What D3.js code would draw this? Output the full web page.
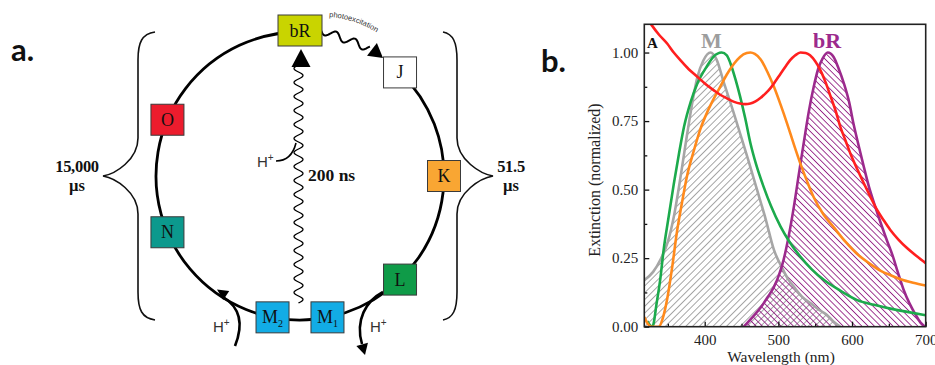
<!DOCTYPE html>
<html>
<head>
<meta charset="utf-8">
<script src="https://cdn.jsdelivr.net/npm/d3@7"></script>
<style>
  body { margin: 0; background: #fff; }
  svg { display: block; }
</style>
</head>
<body>
<svg id="fig"></svg>
<script>
// ---- panel a: photocycle states ----
const stateNames = ["bR", "J", "K", "L", "M1", "M2", "N", "O"];
const stateColors = ["#c9d400", "#ffffff", "#f9a633", "#0f9b48", "#12ace5", "#12ace5", "#0c998d", "#ec1c2d"];
const stateAngles = [0, 44, 90, 136, 169, 191, 247, 293]; // degrees, clockwise from top
const cycleTimes = [["15,000", "\u00b5s"], ["51.5", "\u00b5s"]];
const transferTime = "200 ns";

// ---- panel b: normalized extinction spectra ----
const wavelengthTicks = [400, 500, 600, 700];
const wavelengthMinor = [350, 450, 550, 650];
const extinctionTicks = [0, 0.25, 0.5, 0.75, 1];
const extinctionMinor = [0.125, 0.375, 0.625, 0.875];

const mWavelength = [318, 330, 340, 350, 358, 368, 376, 384, 390, 398, 408, 416, 426, 437, 448, 460, 471, 483, 494, 505, 514, 521, 532, 544, 556, 566, 575, 584];
const mExtinction = [0.17, 0.2, 0.245, 0.31, 0.4, 0.56, 0.7, 0.83, 0.91, 0.97, 1.0, 0.975, 0.89, 0.8, 0.705, 0.6, 0.5, 0.39, 0.28, 0.215, 0.17, 0.146, 0.11, 0.085, 0.06, 0.043, 0.018, 0.0];

const brWavelength = [453, 465, 476, 486, 494, 501, 507, 514, 521, 528, 535, 541, 548, 554, 560, 567, 575, 582, 589, 596, 602, 609, 616, 623, 630, 640, 648, 655, 662, 670, 678, 686, 693, 699];
const brExtinction = [0.0, 0.035, 0.07, 0.11, 0.145, 0.19, 0.243, 0.33, 0.437, 0.56, 0.68, 0.78, 0.875, 0.94, 0.978, 1.0, 0.984, 0.94, 0.887, 0.82, 0.74, 0.66, 0.583, 0.51, 0.45, 0.37, 0.31, 0.26, 0.2, 0.135, 0.085, 0.045, 0.015, 0.0];

const greenWavelength = [322, 329, 335, 340, 344, 351, 358, 365, 372, 381, 390, 403, 412, 423, 430, 435, 442, 448, 455, 462, 470, 480, 490, 503, 515, 530, 545, 562, 585, 607, 630, 652, 675, 700];
const greenExtinction = [0.02, 0.0, 0.09, 0.18, 0.275, 0.4, 0.52, 0.63, 0.73, 0.82, 0.887, 0.95, 0.985, 1.0, 0.99, 0.96, 0.9, 0.84, 0.76, 0.67, 0.59, 0.51, 0.44, 0.365, 0.31, 0.255, 0.21, 0.17, 0.13, 0.097, 0.08, 0.066, 0.054, 0.042];

const orangeWavelength = [318, 323, 328, 338, 343, 349, 356, 362, 369, 376, 385, 394, 403, 412, 421, 430, 440, 448, 457, 462, 468, 476, 485, 494, 503, 512, 521, 530, 539, 548, 561, 575, 591, 607, 623, 639, 653, 666, 683, 700];
const orangeExtinction = [0.035, 0.01, 0.0, 0.0, 0.03, 0.1, 0.22, 0.34, 0.45, 0.55, 0.64, 0.72, 0.78, 0.83, 0.875, 0.92, 0.96, 0.984, 0.998, 1.0, 0.995, 0.975, 0.93, 0.875, 0.81, 0.74, 0.665, 0.594, 0.53, 0.472, 0.41, 0.363, 0.31, 0.265, 0.232, 0.204, 0.187, 0.173, 0.16, 0.15];

const redWavelength = [318, 328, 338, 349, 358, 367, 378, 390, 401, 412, 421, 430, 440, 448, 455, 462, 469, 476, 483, 489, 496, 503, 510, 516, 523, 530, 537, 543, 550, 557, 564, 571, 578, 584, 591, 598, 607, 616, 625, 634, 643, 652, 663, 675, 688, 700];
const redExtinction = [1.14, 1.1, 1.065, 1.033, 1.0, 0.972, 0.94, 0.912, 0.885, 0.863, 0.846, 0.833, 0.82, 0.814, 0.812, 0.814, 0.822, 0.835, 0.852, 0.869, 0.895, 0.923, 0.95, 0.972, 0.99, 1.0, 0.998, 0.99, 0.968, 0.936, 0.892, 0.839, 0.785, 0.73, 0.68, 0.63, 0.575, 0.523, 0.473, 0.426, 0.388, 0.353, 0.318, 0.286, 0.257, 0.232];

const serif = "'Liberation Serif', 'Times New Roman', serif";
const sans = "'Liberation Sans', Arial, sans-serif";

const svg = d3.select("#fig").attr("width", 935).attr("height", 365);
const defs = svg.append("defs");

// ================= panel a =================
const a = svg.append("g");
const cx = 300, cy = 176, R = 144;
const rad = d => d * Math.PI / 180;
const onLoop = d => [cx + R * Math.sin(rad(d)), cy - R * Math.cos(rad(d))];

// wavy line between two points
function wave(x0, y0, x1, y1, period, amp) {
    const dx = x1 - x0, dy = y1 - y0, len = Math.hypot(dx, dy);
    const ux = dx / len, uy = dy / len;
    const pts = d3.range(0, len + 0.25, 0.5).map(s => {
        const o = amp * Math.sin(2 * Math.PI * s / period);
        return [x0 + ux * s - uy * o, y0 + uy * s + ux * o];
    });
    return d3.line().curve(d3.curveBasis)(pts);
}
function arrowHead(g, tip, angle, len, half) {
    g.append("path")
        .attr("d", `M0,0L${-len},${-half}L${-len},${half}Z`)
        .attr("transform", `translate(${tip}) rotate(${angle})`)
        .attr("fill", "#000");
}

a.append("text").text("a.")
    .attr("x", 11).attr("y", 61)
    .style("font-family", "Lato, 'Open Sans', sans-serif").style("font-weight", 700)
    .style("font-size", "31px").attr("fill", "#111");

// the loop, open between bR and J
const loop = d3.path();
loop.arc(cx, cy, R, rad(stateAngles[1] - 90), rad(360 - 90));
a.append("path").attr("d", loop.toString())
    .attr("fill", "none").attr("stroke", "#000").attr("stroke-width", 2.8);

// arrowhead on the loop between M2 and N
arrowHead(a, [217, 289.5], 213, 11, 5.5);

// braces
const brace = (side) => {
    const s = side;               // -1 left, 1 right
    const ex = s < 0 ? 155 : 443, sp = s < 0 ? 138 : 457, tip = s < 0 ? 103 : 493;
    return `M${ex},32 C${sp + s * -4},34 ${sp},42 ${sp},60 L${sp},138 C${sp},160 ${tip - s * 12},174 ${tip},176`
        + ` C${tip - s * 12},178 ${sp},192 ${sp},214 L${sp},292 C${sp},310 ${sp + s * -4},318 ${ex},320`;
};
[-1, 1].forEach(s => a.append("path").attr("d", brace(s))
    .attr("fill", "none").attr("stroke", "#111").attr("stroke-width", 1.6));

cycleTimes.forEach((t, i) => {
    const mid = i === 0 ? 77 : 511;
    const tx = a.append("text")
        .attr("text-anchor", "middle")
        .style("font-family", serif).style("font-weight", 700).style("font-size", "16.5px")
        .attr("fill", "#111");
    tx.append("tspan").attr("x", mid).attr("y", 172).text(t[0])
        .style("letter-spacing", "-0.3px");
    tx.append("tspan").attr("x", mid).attr("y", 191).text(t[1]);
});

// vertical wavy arrow M -> bR
a.append("path").attr("d", wave(298.5, 303, 298.5, 64, 14, 4.5))
    .attr("fill", "none").attr("stroke", "#000").attr("stroke-width", 1.3);
a.append("path").attr("d", "M301,49L291.5,67L310.5,67Z").attr("fill", "#000");

a.append("text").text(transferTime)
    .attr("x", 308).attr("y", 181)
    .style("font-family", serif).style("font-weight", 700).style("font-size", "17.5px")
    .attr("fill", "#111");

// H+ labels
function hPlus(x, y) {
    const t = a.append("text").attr("x", x).attr("y", y)
        .style("font-family", sans).style("font-size", "15px").attr("fill", "#333");
    t.append("tspan").text("H");
    t.append("tspan").text("+").attr("dy", -6).style("font-size", "10px");
}
hPlus(257, 167);
a.append("path").attr("d", "M276,161 C286,161 293,155 296,143")
    .attr("fill", "none").attr("stroke", "#000").attr("stroke-width", 1.6);

hPlus(213, 332);
a.append("path").attr("d", "M235,346 C243,326 241,308 223,297")
    .attr("fill", "none").attr("stroke", "#000").attr("stroke-width", 2.6);

hPlus(370, 332);
a.append("path").attr("d", "M383,292 C366,301 355,320 362,344")
    .attr("fill", "none").attr("stroke", "#000").attr("stroke-width", 2.6);
arrowHead(a, [365, 355], 75, 11, 6);

// photoexcitation
a.append("path").attr("d", wave(321, 30, 369, 48, 20, 3.8))
    .attr("fill", "none").attr("stroke", "#000").attr("stroke-width", 2);
arrowHead(a, [383, 58], 38, 14, 8);
defs.append("path").attr("id", "photoPath").attr("d", "M329,17 Q360,19 386,39");
a.append("text").style("font-family", sans).style("font-size", "7.5px").attr("fill", "#333")
    .append("textPath").attr("href", "#photoPath").text("photoexcitation");

// state boxes
const states = a.selectAll("g.state")
    .data(stateNames)
    .join("g")
    .attr("class", "state")
    .attr("transform", (d, i) => {
        const p = onLoop(stateAngles[i]);
        return `translate(${p[0]},${i === 0 ? p[1] - 1.5 : p[1]})`;
    });
states.append("rect")
    .attr("x", d => d === "bR" ? -22 : -16.5)
    .attr("y", -15.5)
    .attr("width", d => d === "bR" ? 44 : 33)
    .attr("height", 31)
    .attr("fill", (d, i) => stateColors[i])
    .attr("stroke", "#3a3a3a").attr("stroke-width", 1);
const lab = states.append("text")
    .attr("text-anchor", "middle").attr("y", 6)
    .style("font-family", serif).style("font-size", "18px").attr("fill", "#111");
lab.append("tspan").text(d => d.replace(/\d/, ""));
lab.filter(d => /\d/.test(d)).append("tspan")
    .text(d => d.match(/\d/)[0]).attr("dy", 4).style("font-size", "10px");

// ================= panel b =================
const b = svg.append("g");
const x = d3.scaleLinear().domain([318, 700]).range([644.3, 925.7]);
const y = d3.scaleLinear().domain([0, 1.103]).range([326.7, 24.3]);

b.append("text").text("b.")
    .attr("x", 541).attr("y", 72)
    .style("font-family", "Lato, 'Open Sans', sans-serif").style("font-weight", 700)
    .style("font-size", "31px").attr("fill", "#111");

defs.append("clipPath").attr("id", "plotClip")
    .append("rect").attr("x", x.range()[0]).attr("y", y.range()[1])
    .attr("width", x.range()[1] - x.range()[0]).attr("height", y.range()[0] - y.range()[1]);

const hatch = (id, angle, gap, color, w) => {
    defs.append("pattern").attr("id", id)
        .attr("patternUnits", "userSpaceOnUse")
        .attr("width", gap).attr("height", gap)
        .attr("patternTransform", `rotate(${angle})`)
        .append("line").attr("x1", 0).attr("y1", 0).attr("x2", 0).attr("y2", gap)
        .attr("stroke", color).attr("stroke-width", w);
};
hatch("hatchM", 45, 4.8, "#777", 1.3);
hatch("hatchBR", -45, 4.4, "#962687", 1.8);

const series = [
    { wl: mWavelength, ext: mExtinction, color: "#a6a6a6", fill: "url(#hatchM)" },
    { wl: brWavelength, ext: brExtinction, color: "#9c2a8d", fill: "url(#hatchBR)" },
    { wl: greenWavelength, ext: greenExtinction, color: "#1caa4c" },
    { wl: orangeWavelength, ext: orangeExtinction, color: "#ff8a1c" },
    { wl: redWavelength, ext: redExtinction, color: "#ff1f1f" }
].map(s => Object.assign(s, { pts: s.wl.map((w, i) => [w, s.ext[i]]) }));

const plot = b.append("g").attr("clip-path", "url(#plotClip)");
const area = d3.area().x(d => x(d[0])).y0(y(0)).y1(d => y(d[1])).curve(d3.curveMonotoneX);
const line = d3.line().x(d => x(d[0])).y(d => y(d[1])).curve(d3.curveMonotoneX);

plot.selectAll("path.fill")
    .data(series.filter(s => s.fill))
    .join("path").attr("class", "fill")
    .attr("d", s => area(s.pts)).attr("fill", s => s.fill);
plot.selectAll("path.curve")
    .data(series)
    .join("path").attr("class", "curve")
    .attr("d", s => line(s.pts))
    .attr("fill", "none").attr("stroke", s => s.color).attr("stroke-width", 2.6)
    .attr("stroke-linejoin", "round");

// axes, ticks inward
const styleAxis = g => {
    g.select(".domain").remove();
    g.selectAll("line").attr("stroke", "#111").attr("stroke-width", 1.3);
    g.selectAll("text").style("font-family", serif).style("font-size", "15px").attr("fill", "#222");
};
b.append("g").attr("transform", `translate(0,${y(0)})`)
    .call(d3.axisBottom(x).tickValues(wavelengthTicks).tickSizeInner(-5).tickSizeOuter(0).tickPadding(8))
    .call(styleAxis);
b.append("g").attr("transform", `translate(0,${y(0)})`)
    .call(d3.axisBottom(x).tickValues(wavelengthMinor).tickSizeInner(-3).tickSizeOuter(0).tickFormat(""))
    .call(styleAxis);
b.append("g").attr("transform", `translate(${x.range()[0]},0)`)
    .call(d3.axisLeft(y).tickValues(extinctionTicks).tickSizeInner(-5).tickSizeOuter(0).tickPadding(6)
        .tickFormat(d3.format(".2f")))
    .call(styleAxis);
b.append("g").attr("transform", `translate(${x.range()[0]},0)`)
    .call(d3.axisLeft(y).tickValues(extinctionMinor).tickSizeInner(-3).tickSizeOuter(0).tickFormat(""))
    .call(styleAxis);

b.append("rect")
    .attr("x", x.range()[0]).attr("y", y.range()[1])
    .attr("width", x.range()[1] - x.range()[0]).attr("height", y.range()[0] - y.range()[1])
    .attr("fill", "none").attr("stroke", "#222").attr("stroke-width", 1.6);

b.append("text").text("Wavelength (nm)")
    .attr("x", 781).attr("y", 362).attr("text-anchor", "middle")
    .style("font-family", serif).style("font-size", "15.5px").attr("fill", "#222");
b.append("text").text("Extinction (normalized)")
    .attr("transform", "translate(600,180) rotate(-90)").attr("text-anchor", "middle")
    .style("font-family", serif).style("font-size", "16px").attr("fill", "#222");

b.append("text").text("A").attr("x", 647).attr("y", 48)
    .style("font-family", serif).style("font-weight", 700).style("font-size", "15px").attr("fill", "#111");
b.append("text").text("M").attr("x", x(409)).attr("y", 48).attr("text-anchor", "middle")
    .style("font-family", serif).style("font-weight", 700).style("font-size", "22px").attr("fill", "#9d9d9d");
b.append("text").text("bR").attr("x", x(566)).attr("y", 48).attr("text-anchor", "middle")
    .style("font-family", serif).style("font-weight", 700).style("font-size", "22px").attr("fill", "#9c2a8d");
</script>
</body>
</html>
